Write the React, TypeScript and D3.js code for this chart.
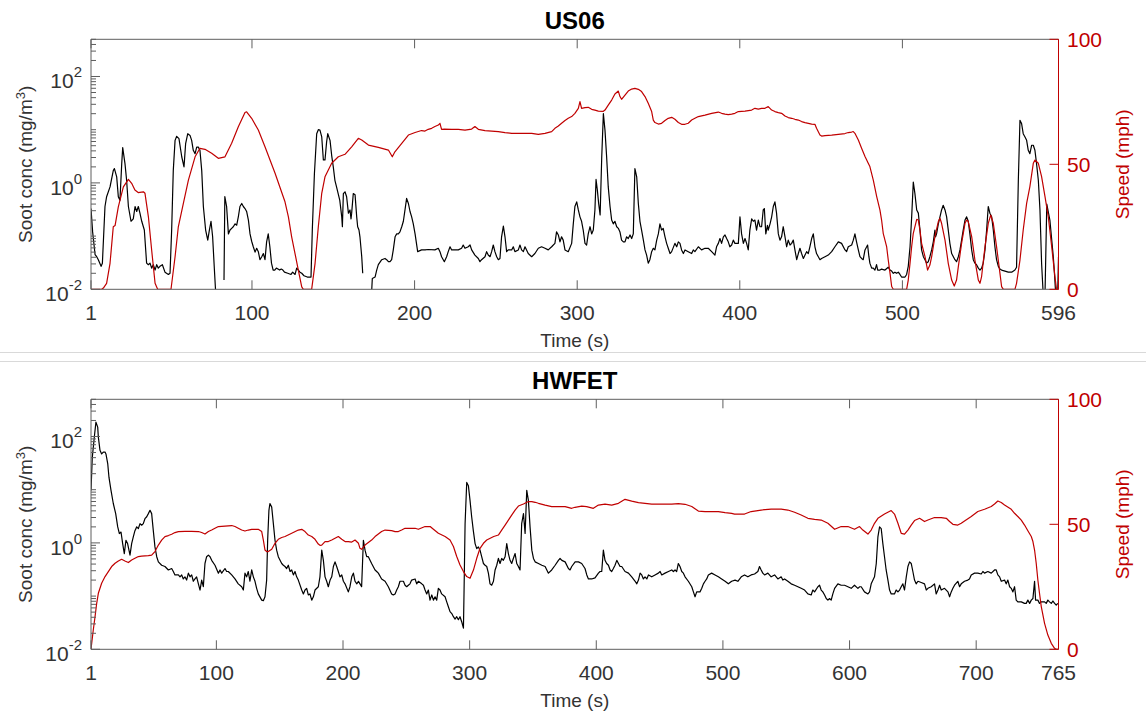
import * as d3 from "d3";
import { useEffect, useRef } from "react";

type Pt = [number, number | null];

// ---- data: [time (s), value] ; null = gap in the soot trace ----
const us06Soot: Pt[] = [
  [1,0.33],[2,0.12],[3.5,0.045],[4.5,0.041],[5.5,0.036],[7.2,0.027],[8,0.031],[9.6,0.36],[10.6,0.55],[12.7,0.84],
  [14.7,1.7],[15.4,1.86],[16.8,1.3],[17.8,0.55],[18.8,0.47],[19.9,2.3],[20.5,4.6],[21.9,2.3],[22.9,1.12],[24,0.36],
  [25.6,0.19],[27,0.21],[28.1,0.36],[29.1,0.29],[30.1,0.36],[31.1,0.27],[32.2,0.19],[33.8,0.13],[35.2,0.031],[36.3,0.029],
  [37.3,0.031],[38.3,0.025],[39.3,0.029],[40.4,0.023],[41.4,0.029],[42.4,0.025],[43.4,0.027],[44.9,0.029],[46.5,0.021],[48.6,0.019],
  [49.6,0.02],[50.6,0.13],[51.6,1.7],[52.7,6.3],[53.7,7.5],[55.1,6.8],[56.8,3.1],[58.2,2.0],[59.2,5.5],[60.5,8.4],
  [61.9,7.8],[62.9,6.3],[63.9,4.1],[65,3.55],[66,4.7],[67,4.7],[68,4.1],[69.1,1.7],[70.1,0.36],[71.5,0.13],
  [72.8,0.084],[73.8,0.13],[74.8,0.19],[75.8,0.097],[76.9,0.023],[77.7,0.0084],[78,null],
  [82.8,0.015],[83.3,0.55],[84.4,0.36],[85.5,0.11],[86.5,0.13],[87.5,0.14],[88.5,0.15],[89.6,0.17],[90.6,0.16],[91.6,0.23],
  [92.6,0.36],[93.7,0.41],[94.7,0.36],[95.7,0.33],[96.7,0.29],[97.8,0.2],[98.8,0.11],[99.8,0.08],[100.8,0.063],[101.9,0.05],
  [102.9,0.059],[103.9,0.051],[104.9,0.036],[106,0.041],[107,0.047],[108,0.036],[109,0.078],[110,0.11],[111,0.063],[112,0.031],
  [113,0.023],[114,0.023],[115,0.025],[116,0.024],[117,0.023],[118,0.024],[119,0.023],[120,0.021],[122,0.02],[124,0.019],
  [125,0.021],[126.5,0.019],[127.5,0.025],[128.5,0.023],[129.5,0.021],[130.6,0.02],[132,0.018],[134,0.017],[136.3,0.017],[137.1,0.13],
  [138.4,1.5],[139.8,8.4],[140.8,10],[141.8,9.8],[142.9,7.3],[143.9,2.7],[144.9,2.7],[145.9,5.9],[146.6,8.4],[148,6.3],
  [149,3.3],[150,2.0],[151,1.12],[152,0.84],[153,0.63],[154,0.47],[155.2,0.23],[155.6,0.15],[156.2,0.63],[157.2,0.68],
  [158.2,0.55],[159.3,0.27],[160.3,0.31],[160.9,0.21],[161.3,0.27],[162.3,0.63],[163.4,0.6],[164.4,0.23],[165,0.15],[165.8,0.13],
  [166.4,0.097],[167.5,0.041],[168.1,0.02],[168.5,null],
  [173.6,0.009],[174,0.016],[175.7,0.017],[176.7,0.023],[177.7,0.029],[179.8,0.036],[181.8,0.038],[182.8,0.036],[183.9,0.033],[184.9,0.033],
  [185.9,0.036],[186.9,0.055],[188,0.097],[189,0.11],[190,0.11],[191,0.12],[192.1,0.15],[193.1,0.19],[194.1,0.31],[195.1,0.51],
  [196.2,0.41],[197.2,0.29],[198.2,0.23],[199.2,0.17],[200.3,0.11],[201.9,0.051],[204.3,0.055],[206.4,0.055],[208.4,0.056],[212.5,0.055],
  [214.6,0.059],[215.6,0.051],[216.6,0.041],[218.3,0.033],[219.7,0.041],[220.7,0.051],[221.8,0.063],[222.8,0.055],[226.9,0.055],[228.9,0.059],
  [229.9,0.068],[231,0.059],[233,0.063],[234.1,0.068],[235.1,0.055],[237.1,0.044],[239.2,0.038],[240.2,0.033],[241.2,0.036],[243.3,0.041],
  [244.3,0.051],[245.3,0.044],[246.4,0.041],[247.4,0.051],[248.4,0.068],[249.4,0.051],[250.5,0.041],[251.5,0.036],[252.5,0.038],[253.5,0.097],
  [254.6,0.154],[255.6,0.097],[256.6,0.051],[257.6,0.055],[259.7,0.055],[260.7,0.063],[261.7,0.051],[263.8,0.055],[264.8,0.068],[265.8,0.055],
  [266.9,0.051],[267.9,0.063],[269.9,0.047],[272,0.041],[274,0.047],[276.1,0.059],[278.1,0.063],[280.2,0.059],[282.2,0.055],[284.3,0.063],
  [286.3,0.073],[287.3,0.12],[288.4,0.105],[289.4,0.078],[290.4,0.097],[291.4,0.084],[292.5,0.055],[294.5,0.051],[296.6,0.073],[297.6,0.17],
  [298.6,0.36],[299.7,0.44],[300.7,0.31],[301.7,0.23],[302.7,0.19],[303.7,0.13],[304.8,0.073],[305.8,0.068],[306.8,0.11],[307.9,0.15],
  [308.9,0.11],[309.9,0.13],[310.9,0.31],[311.6,1.16],[312.4,0.73],[313.2,0.41],[314.1,0.25],[315.1,3.1],[316.1,20],[317.1,9.7],
  [318.1,3.1],[319.1,0.84],[320.2,0.36],[321.2,0.2],[322.2,0.17],[323.2,0.19],[324.3,0.15],[325.3,0.14],[326.3,0.12],[327.3,0.084],
  [328.4,0.078],[329.4,0.078],[330.4,0.097],[331.4,0.09],[332.5,0.105],[333.5,0.09],[334.5,0.11],[335.5,1.86],[336.6,1.3],[337.6,0.41],
  [338.6,0.19],[339.6,0.13],[340.7,0.084],[341.7,0.055],[342.7,0.044],[343.7,0.031],[344.7,0.036],[345.8,0.051],[346.8,0.059],[347.8,0.055],
  [348.9,0.084],[349.9,0.11],[350.9,0.17],[351.9,0.13],[352.9,0.14],[354,0.097],[355,0.073],[356,0.059],[357.1,0.047],[358.1,0.051],
  [360.1,0.073],[361.2,0.063],[362.2,0.078],[363.2,0.073],[364.2,0.055],[365.3,0.047],[366.3,0.055],[368.3,0.051],[370.4,0.047],[371.4,0.055],
  [372.4,0.051],[374.5,0.063],[376.5,0.055],[378.6,0.059],[380.6,0.059],[382.7,0.051],[384.7,0.044],[385.7,0.063],[386.8,0.073],[387.8,0.09],
  [388.8,0.073],[389.9,0.097],[390.9,0.105],[391.9,0.09],[392.9,0.078],[393.9,0.063],[395,0.068],[396,0.084],[397,0.073],[399.1,0.073],
  [400.1,0.23],[401.1,0.11],[402.2,0.073],[403.2,0.09],[404.2,0.073],[405.2,0.055],[406.2,0.13],[407.3,0.21],[408.3,0.19],[409.3,0.2],
  [410.3,0.13],[411.4,0.2],[412.4,0.15],[413.4,0.15],[414.4,0.31],[415.1,0.33],[416,0.11],[417,0.16],[417.5,0.13],[418.6,0.17],
  [419.6,0.23],[420.6,0.36],[421.6,0.44],[422.6,0.27],[423.7,0.11],[424.7,0.084],[425.7,0.097],[426.7,0.15],[427.8,0.097],[428.8,0.063],
  [429.8,0.084],[430.9,0.068],[431.9,0.073],[432.9,0.084],[433.9,0.055],[435,0.036],[436,0.047],[437,0.059],[438,0.047],[439.1,0.038],
  [440.1,0.044],[441.1,0.051],[442.1,0.047],[443.1,0.063],[444.2,0.09],[445.2,0.11],[446.2,0.063],[447.2,0.047],[448.3,0.041],[449.3,0.036],
  [450.3,0.038],[452.4,0.041],[454.4,0.044],[456.5,0.051],[458.5,0.063],[460.6,0.078],[462.6,0.073],[464.7,0.055],[465.7,0.051],[466.7,0.063],
  [468.8,0.068],[469.8,0.084],[470.8,0.11],[471.8,0.078],[472.9,0.055],[473.9,0.041],[474.9,0.038],[475.9,0.036],[477,0.055],[478.6,0.068],
  [479.4,0.041],[480,0.031],[481.1,0.025],[482.1,0.025],[483.1,0.023],[484.1,0.029],[484.8,0.023],[486.2,0.023],[487.2,0.024],[489.3,0.023],
  [491.3,0.026],[492.4,0.023],[493.4,0.022],[494.4,0.02],[495.4,0.021],[496.4,0.02],[497.5,0.021],[498.5,0.019],[499.5,0.017],[500.6,0.017],
  [501.6,0.017],[502.6,0.019],[503.6,0.027],[504.7,0.063],[505.7,0.23],[506.7,1.04],[507.7,0.63],[508.8,0.31],[509.8,0.27],[510.8,0.13],
  [511.8,0.055],[512.9,0.041],[513.9,0.036],[514.9,0.031],[515.9,0.033],[516.9,0.041],[518,0.055],[519,0.078],[520,0.13],[520.4,0.097],
  [521,0.11],[522.1,0.17],[523.1,0.23],[524.1,0.31],[525.1,0.38],[526.2,0.31],[527.2,0.23],[528.2,0.13],[529.2,0.073],[530.3,0.047],
  [532.3,0.036],[533.3,0.033],[534.4,0.041],[535.4,0.055],[536.4,0.084],[537.4,0.13],[538.5,0.2],[539.5,0.23],[540.5,0.19],[541.5,0.11],
  [542.6,0.055],[543.6,0.036],[544.6,0.031],[545.6,0.029],[546.7,0.025],[547.7,0.023],[548.7,0.025],[549.7,0.031],[550.8,0.055],[551.8,0.13],
  [552.8,0.36],[553.8,0.27],[554.9,0.23],[555.9,0.13],[556.9,0.063],[557.9,0.036],[559,0.027],[560,0.024],[561,0.023],[563.1,0.022],
  [565.1,0.021],[566.1,0.021],[567.2,0.021],[569.2,0.023],[570.2,0.026],[571.3,1.12],[572.3,15],[573.3,13],[574.3,8.4],[575.4,7.3],
  [576.4,6.3],[577.4,4.1],[578.4,3.55],[579.5,5.1],[580.5,5.1],[581.5,4.1],[582.5,2.3],[583.6,1.12],[584.6,0.31],[585.6,0.031],
  [586.6,0.008],[587,null],[587.7,0.008],[588.8,0.4],[590.7,0.2],[592.8,0.041],[593.5,0.02],[594.3,0.008],[594.8,null],[595.5,0.008],
  [596,0.041],
];

const us06Speed: Pt[] = [
  [1,0],[7.6,0],[8.6,0.5],[10.6,2.4],[12.7,10.4],[14.7,25],[15.8,25.5],[17.8,33],[20.9,41],[24,44],
  [26,42.4],[28,39.7],[30,38.7],[33.2,39],[34.2,38.4],[36.3,29],[38.3,15.7],[40.4,2.4],[42,0],[50.2,0],
  [52.7,13],[54.7,25],[57.8,34.4],[60.9,43.7],[65,53],[68,56.4],[71.1,56],[75.2,54.4],[79.3,52.4],[83.4,53],
  [87.5,58.4],[91.6,65],[95.7,70.7],[96.7,71],[99.8,68.4],[103.9,63.7],[108,57],[114.2,46.4],[120.3,35],[122.4,29],
  [124.4,21],[128.5,7.7],[130.6,1],[131.6,0],[136.7,0],[138.8,10.4],[140.8,25],[142.9,38.4],[144.9,45],[149,50.4],
  [153.1,53],[157.2,54],[161.3,57],[165.4,60.4],[167.5,59.7],[171.6,57.7],[177.7,56.8],[183.9,55.7],[186.3,53],[187.9,55],
  [192.1,58.4],[196.2,61.7],[200.3,62.7],[204.3,63.5],[206.4,63.3],[208.4,64],[210.5,64.4],[212.5,65.1],[214.6,65.7],[215.6,66.4],
  [216.6,64],[218.3,64.1],[222.8,64],[226.9,64],[231,63.7],[235.1,64.1],[237.1,65.1],[239.2,64],[243.3,63.5],[247.4,63.3],
  [251.5,63.1],[255.6,62.7],[259.7,62.4],[263.8,62.4],[267.9,62.4],[272,62.4],[276.1,62],[280.2,62.4],[284.3,63.1],[286.3,64.4],
  [288.4,65.3],[290.4,66.4],[292.5,67.5],[294.5,68.4],[296.6,69.1],[298.6,70.4],[300.7,72.4],[301.7,75.1],[302.7,72.4],[304.8,72.7],
  [306.8,72.8],[308.9,72],[310.9,71.7],[313,71.3],[316.1,71.2],[317.1,71.7],[319.1,73.7],[321.2,75.7],[323.2,78.1],[325.3,79.3],
  [326.3,77.1],[327.3,76],[329.4,77.7],[331.4,79.3],[333.5,80.1],[335.5,80.4],[337.6,80],[339.6,79.1],[341.7,77.1],[343.7,74.4],
  [345.8,71.1],[346.8,67.7],[347.8,66.7],[349.9,66.1],[351.9,66.4],[354,67.5],[356,68.4],[358.1,68.8],[360.1,68],[362.2,66.7],
  [364.2,66],[366.3,66],[368.3,66.4],[370.4,67.7],[372.4,68.4],[374.5,69.1],[378.6,69.7],[382.7,70.4],[386.8,70.9],[388.8,70.4],
  [390.9,70.1],[392.9,69.9],[395,70.1],[397,70.4],[399.1,71.1],[403.2,71.3],[407.3,71.7],[409.3,72.4],[411.4,72.1],[413.4,72.4],
  [415.5,72.4],[417.5,73.1],[419.6,71.7],[421.6,71.1],[423.7,70.7],[425.7,70.4],[427.8,69.3],[429.8,68.7],[431.9,68.4],[433.9,68],
  [436,67.7],[438,67.1],[440.1,66.7],[444.2,66.1],[446.2,66],[447.2,64.4],[449.3,61.7],[450.3,61.3],[452.4,61.5],[456.5,61.7],
  [460.6,62],[464.7,62.3],[466.7,62.7],[468.8,62.9],[469.8,63.1],[470.8,62.4],[472.9,59.7],[474.9,56.4],[477,53.1],[479,50.4],
  [480,49.1],[482.1,43.7],[484.2,37.1],[486.2,31.7],[487.2,27.7],[488.2,22.4],[490.3,17.1],[491.3,11.7],[492.4,6.4],[493.4,1.1],
  [494.4,0],[502.6,0],[503.6,3.7],[504.7,10.4],[505.7,17.1],[506.7,22.4],[508.8,28],[509.8,27.7],[510.8,23.7],[511.8,18.4],
  [513.9,13.1],[515.5,7.7],[516.9,9.7],[518,13.1],[520,21.1],[522.1,27.1],[523.1,28.4],[524.1,26.4],[526.2,19.7],[528.2,10.4],
  [530.3,3.7],[531.9,1.3],[533.3,3.7],[534.4,9.1],[536.4,18.4],[538.5,26.4],[539.5,27.7],[540.5,27.1],[542.6,21.1],[544.6,11.7],
  [546.7,3.7],[547.7,2.4],[548.7,5.1],[550.8,17.1],[552.8,26.4],[554.3,29.7],[555.9,26.4],[557.9,17.1],[560,6.4],[561,1.1],
  [562.1,0],[569.2,0],[570.2,2.4],[572.3,11.7],[574.3,23.7],[576.4,34.4],[578.4,41.1],[580.5,50.4],[581.5,51.7],[583.6,50.4],
  [585.6,45.1],[587.7,37.1],[589.7,29.1],[591.8,17.1],[593.8,5.1],[594.8,0],[596,0],
];

const hwfetSoot: Pt[] = [
  [1,9.7],[2,40],[3.6,97],[4.9,186],[6.3,150],[6.8,97],[8.1,55],[9.4,47],[10.7,51],[12.1,51],
  [12.8,47],[14.2,31],[15.2,17],[16.8,9.7],[18.6,5.5],[20.5,3.55],[22.1,2.0],[23.4,1.5],[24.7,1.6],[26,0.97],
  [27.3,0.63],[28.6,1.12],[29.9,0.97],[31.8,0.59],[33.1,0.97],[34.4,1.3],[35.7,1.7],[37.1,2.0],[38.4,1.86],[39.7,2.3],
  [41,2.15],[42.3,2.3],[43.6,2.85],[45,3.1],[46.3,3.55],[47.6,4.1],[48.9,3.55],[50.2,1.7],[51.5,0.84],[52.9,0.55],
  [54.2,0.44],[56.8,0.38],[59.4,0.36],[62.1,0.31],[64.7,0.33],[66,0.29],[67.3,0.25],[70,0.25],[71.3,0.23],[72.6,0.25],
  [73.9,0.21],[75.2,0.23],[76.5,0.2],[77.9,0.27],[79.2,0.23],[80.5,0.25],[81.8,0.19],[83.1,0.21],[84.4,0.23],[85.8,0.17],
  [87.1,0.13],[88.4,0.2],[89.7,0.15],[91,0.41],[92.3,0.55],[93.7,0.59],[95,0.55],[96.3,0.47],[98.9,0.38],[101.6,0.27],
  [102.9,0.31],[104.2,0.27],[106.8,0.33],[108.1,0.29],[109.4,0.29],[112.1,0.25],[114.7,0.21],[117.3,0.17],[120,0.15],[121.3,0.13],
  [122.6,0.27],[123.9,0.23],[125.2,0.29],[126.5,0.19],[127.9,0.31],[129.2,0.23],[130.5,0.19],[131.8,0.14],[133.1,0.11],[135.8,0.084],
  [137.1,0.082],[138.4,0.097],[139.7,0.2],[140.5,1.12],[141.5,4.1],[142.3,5.5],[143.7,4.7],[145,2.3],[146.3,1.12],[147.6,0.73],
  [148.9,0.55],[151.6,0.41],[152.9,0.38],[154.2,0.36],[155.5,0.33],[156.8,0.38],[158.2,0.29],[159.5,0.31],[160.8,0.25],[162.1,0.29],
  [163.4,0.23],[164.7,0.2],[167.4,0.13],[168.7,0.11],[170,0.13],[171.3,0.14],[172.6,0.105],[173.9,0.11],[175.3,0.084],[176.6,0.097],
  [177.9,0.13],[180.5,0.15],[181.8,0.23],[183.2,0.73],[184.5,0.47],[185.8,0.23],[187.1,0.19],[188.4,0.15],[189.8,0.2],[191.1,0.23],
  [192.4,0.36],[193.7,0.44],[195,0.36],[196.3,0.29],[197.6,0.23],[199,0.25],[200.3,0.19],[201.6,0.17],[204.2,0.12],[205.5,0.15],
  [206.9,0.23],[208.2,0.27],[209.5,0.19],[210.9,0.17],[212.2,0.19],[213.4,0.17],[214.7,0.15],[215.4,0.41],[216.1,1.12],[217.4,0.73],
  [218.7,0.55],[220,0.55],[222.6,0.41],[225.3,0.31],[226.6,0.29],[227.9,0.27],[230.5,0.21],[233.2,0.19],[235.8,0.15],[238.4,0.11],
  [239.7,0.105],[241.1,0.11],[242.4,0.13],[243.7,0.15],[245,0.19],[246.3,0.19],[247.7,0.19],[249,0.16],[250.3,0.15],[251.6,0.16],
  [252.9,0.17],[254.2,0.2],[256.9,0.21],[258.2,0.17],[259.5,0.19],[262.2,0.17],[263.5,0.16],[264.8,0.13],[266.1,0.11],[267.4,0.13],
  [268.7,0.084],[270.1,0.105],[271.4,0.084],[272.7,0.097],[274,0.084],[275.3,0.14],[276.6,0.13],[277.9,0.11],[280.6,0.097],[281.9,0.078],
  [283.2,0.063],[284.5,0.051],[285.9,0.047],[287.2,0.041],[288.5,0.037],[289.8,0.041],[291.1,0.036],[292.4,0.041],[293.7,0.033],[295.1,0.025],
  [295.6,0.13],[296.4,2.3],[297.7,13.7],[299,11.9],[300.3,6.3],[301.6,3.1],[302.9,1.7],[304.3,0.97],[305.6,0.78],[306.9,0.84],
  [308.2,0.73],[309.5,0.55],[310.9,0.41],[312.2,0.38],[313.5,0.36],[314.8,0.27],[316.1,0.17],[317.4,0.16],[318.8,0.19],[320.1,0.31],
  [321.4,0.38],[322.7,0.51],[324,0.41],[325.3,0.51],[326.6,0.47],[328,0.55],[329.3,0.97],[330.6,0.63],[331.9,0.47],[333.2,0.41],
  [334.5,0.51],[335.9,0.63],[337.2,0.41],[338.5,0.36],[339.8,0.31],[341.1,2.3],[342.5,3.55],[343.8,1.5],[345.1,9.7],[346.4,6.3],
  [347.7,2.0],[349.1,0.73],[350.4,0.51],[351.7,0.44],[354.3,0.41],[357,0.38],[359.6,0.36],[362.2,0.27],[364.8,0.31],[367.5,0.38],
  [370.1,0.47],[371.4,0.51],[372.8,0.47],[375.4,0.44],[378,0.33],[379.3,0.31],[380.6,0.36],[383.3,0.44],[385.9,0.44],[388.5,0.41],
  [391.1,0.33],[392.5,0.25],[393.8,0.21],[396.4,0.21],[399,0.22],[401.7,0.27],[403,0.29],[404.3,0.29],[405.6,0.73],[406.9,0.47],
  [408.2,0.41],[409.6,0.38],[410.9,0.31],[412.2,0.29],[413.5,0.33],[414.8,0.38],[416.2,0.47],[417.5,0.41],[418.8,0.36],[420.1,0.36],
  [422.7,0.29],[425.4,0.27],[428,0.23],[430.7,0.19],[432,0.17],[433.3,0.2],[434.6,0.27],[435.9,0.25],[437.2,0.21],[438.5,0.23],
  [439.9,0.21],[441.2,0.25],[443.8,0.23],[446.4,0.25],[449,0.27],[450.4,0.29],[451.7,0.25],[454.3,0.27],[457,0.29],[459.6,0.31],
  [460.9,0.29],[462.2,0.31],[463.5,0.29],[464.8,0.41],[466.1,0.36],[467.5,0.29],[468.8,0.27],[470.1,0.23],[472.7,0.19],[475.4,0.15],
  [476.7,0.12],[478,0.097],[479.3,0.12],[480.6,0.12],[481.9,0.12],[483.3,0.14],[484.6,0.17],[485.9,0.19],[487.2,0.21],[488.5,0.25],
  [491.1,0.27],[493.8,0.25],[496.4,0.23],[499,0.21],[501.7,0.19],[504.3,0.17],[506.9,0.19],[509.6,0.2],[511.8,0.19],[514.5,0.23],
  [517.1,0.25],[519.7,0.23],[522.3,0.25],[525,0.26],[527.6,0.29],[528.9,0.36],[530.2,0.31],[531.5,0.27],[532.9,0.25],[535.5,0.27],
  [538.1,0.23],[540.8,0.25],[543.4,0.21],[546,0.23],[547.3,0.2],[548.7,0.21],[551.3,0.19],[553.9,0.17],[556.6,0.16],[559.2,0.15],
  [561.8,0.14],[564.5,0.13],[567.1,0.11],[569.7,0.105],[571,0.13],[572.4,0.12],[575,0.15],[576.3,0.16],[577.6,0.13],[578.9,0.12],
  [580.3,0.105],[581.6,0.09],[582.9,0.084],[584.2,0.09],[585.5,0.084],[586.8,0.11],[588.2,0.14],[590.8,0.17],[593.4,0.16],[596.1,0.16],
  [598.7,0.15],[601.3,0.14],[603.9,0.16],[606.6,0.14],[608,0.15],[609.2,0.15],[611.8,0.12],[614.5,0.11],[615.8,0.12],[617.1,0.17],
  [619.7,0.23],[621.1,0.41],[622.4,1.3],[623.7,2.0],[625,1.86],[626.3,0.97],[627.6,0.55],[628.9,0.31],[630.3,0.2],[631.6,0.13],
  [632.9,0.11],[635.5,0.11],[636.8,0.13],[638.2,0.12],[639.5,0.13],[640.8,0.15],[642.1,0.17],[643.4,0.13],[644.8,0.23],[646.1,0.36],
  [647.4,0.44],[648.7,0.41],[650,0.29],[651.3,0.2],[652.6,0.17],[654,0.19],[656.6,0.18],[659.2,0.17],[660.6,0.13],[661.9,0.14],
  [664.5,0.15],[667.1,0.17],[668.4,0.11],[669.8,0.13],[671.1,0.16],[672.4,0.13],[675,0.14],[677.7,0.12],[679,0.097],[680.3,0.12],
  [681.6,0.14],[682.9,0.16],[685.5,0.19],[686.9,0.15],[688.2,0.17],[690.8,0.19],[693.4,0.2],[694.7,0.21],[696.1,0.25],[698.7,0.27],
  [701.3,0.27],[704,0.26],[705.3,0.29],[706.6,0.27],[709.2,0.29],[711.9,0.27],[714.5,0.31],[715.8,0.31],[717.1,0.25],[718.5,0.23],
  [719.8,0.19],[722.4,0.2],[723.7,0.17],[725,0.2],[726.4,0.15],[727.7,0.14],[729,0.12],[730.3,0.15],[731.6,0.084],[732.9,0.078],
  [735.6,0.078],[738.2,0.073],[739.5,0.073],[740.8,0.084],[742.2,0.073],[743.5,0.084],[744.8,0.09],[746.1,0.19],[746.9,0.084],[748.7,0.084],
  [750,0.073],[751.4,0.078],[754,0.078],[755.3,0.073],[756.6,0.084],[757.9,0.078],[759.3,0.073],[760.6,0.081],[761.9,0.073],[763.2,0.068],
  [764.5,0.073],
];

const hwfetSpeed: Pt[] = [
  [1,0],[2.8,7.7],[4.2,13.1],[5.5,18.4],[6.8,22.4],[9.4,26.4],[12.1,29.1],[14.7,31.1],[17.3,33.1],[20,34.4],
  [22.6,35.3],[25.2,36],[27.8,35.3],[30.5,34.7],[33.1,35.7],[35.7,36.4],[38.4,37.1],[41,37.3],[46.3,37.5],[48.9,37.7],
  [51.5,39.1],[54.2,41.7],[56.8,43.7],[59.4,45.1],[62.1,45.5],[64.7,46],[67.3,46.7],[70,47.1],[75.2,47.2],[80.5,47.2],
  [85.8,47.1],[88.4,46.7],[91,46.1],[93.7,47.1],[96.3,47.7],[98.9,48.4],[101.6,49.1],[106.8,49.3],[112.1,49.5],[114.7,49.1],
  [117.3,48.4],[120,47.7],[122.6,47.3],[125.2,47.7],[127.9,48],[133.1,48],[135.8,47.1],[137.1,43.7],[138.4,39.7],[139.7,39.1],
  [141,39.1],[143.7,40],[146.3,42.4],[148.9,44],[151.6,44.7],[154.2,45.1],[159.5,46.4],[164.7,47.7],[167.4,48],[170,47.1],
  [172.6,45.7],[175.3,45.1],[177.9,44],[180.5,42.1],[181.8,41.6],[183.2,41.7],[185.8,43.1],[188.4,43.1],[191.1,43.7],[193.7,44.4],
  [196.3,45.1],[199,44],[201.6,43.1],[204.2,43.1],[206.9,42.9],[209.5,43.7],[212.2,42.4],[213.4,40.4],[214.7,40],[217.4,41.7],
  [220,42.7],[222.6,43.7],[225.3,45.1],[227.9,46.1],[230.5,47.1],[233.2,47.7],[238.4,47.5],[241.1,47.1],[243.7,47.1],[246.3,47.7],
  [249,48.4],[254.2,48.4],[256.9,48.4],[259.5,48],[264.8,49.1],[268.8,49.1],[271.4,48],[275.3,46.4],[280.6,45.1],[284.5,43.7],
  [287.2,41.1],[289.8,37.1],[292.4,33.7],[295.1,31.1],[297.7,29.1],[300.3,28.4],[303,31.7],[305.6,36.4],[308.2,40.4],[310.9,42.4],
  [313.5,43.7],[319,45.1],[322.7,45.7],[325.3,47.7],[328,49.7],[330.6,51.7],[333.2,53.7],[335.9,55.7],[338.5,57.3],[342.5,58.1],
  [346.4,59.1],[349.1,59.1],[351.7,58.8],[354.3,58.4],[359.6,57.7],[364.8,57.1],[370.1,57.1],[375.4,57.1],[380.6,56.4],[383.2,56.8],
  [388.5,57.3],[392.4,57.1],[397.7,56.4],[401.7,57.7],[406.9,58.1],[412.2,57.7],[417.5,58.4],[422.7,60],[428,59.3],[433.3,58.7],
  [438.5,58.4],[443.8,58.1],[454.3,58.1],[459.6,58.1],[464.8,58.3],[470.1,58],[475.4,57.1],[480.6,55.3],[485.9,55.1],[496.4,55.1],
  [501.7,54.7],[506.9,54.4],[509.2,54.1],[517.1,54.1],[522.3,55.1],[530.2,55.7],[538.1,56.1],[546,56.1],[551.3,55.7],[556.6,54.8],
  [561.8,53.7],[567.1,52.4],[572.4,52],[577.6,51.7],[582.9,50.4],[588.2,48],[593.4,49.1],[598.7,49.1],[603.9,48],[607.9,49.1],
  [610.5,47.7],[614.5,46.1],[617.1,47.7],[619.7,50.4],[622.4,52.4],[627.6,54.1],[632.9,55.5],[635.5,54.1],[638.2,50.4],[640.8,46.4],
  [643.4,46.1],[646.1,47.7],[648.7,49.7],[651.3,51.5],[655.3,52.4],[659.2,51.1],[661.9,51.7],[667.1,52.7],[672.4,52.7],[676.4,52.4],
  [679,51.1],[681.6,50],[685.5,49.7],[688.2,50.4],[690.8,51.3],[696.1,53.1],[701.3,55.1],[706.6,56],[711.9,57.1],[714.5,58.1],
  [717.1,59.3],[719.8,58.7],[722.4,57.7],[727.7,56],[730.3,54.4],[732.9,53.1],[735.6,51.7],[738.2,49.7],[740.8,47.4],[743.5,45.1],
  [744.8,43.1],[746.1,39.7],[747.4,34.4],[748.7,27.7],[750,22.4],[751.4,17.1],[754,10.4],[756.6,5.7],[759.3,2.4],[761.9,0.4],
  [763.2,0],[765,0],
];

// ---- ticks ----
const us06TimeTicks = [1, 100, 200, 300, 400, 500, 596];
const hwfetTimeTicks = [1, 100, 200, 300, 400, 500, 600, 700, 765];
const sootLabelTicks = [1e-2, 1e0, 1e2];
const sootExponents = ["-2", "0", "2"];
const speedTicks = [0, 50, 100];

const FONT = "'Liberation Sans', Arial, Helvetica, sans-serif";
const RED = "#c00000";
const AXIS = "#5e5e5e";
const TXT = "#333333";

const LEFT = 91;
const RIGHT = 1058.5;

function drawPanel(
  svg: d3.Selection<SVGSVGElement, unknown, null, undefined>,
  opt: { id: string; title: string; top: number; bottom: number; xMax: number; xTicks: number[]; soot: Pt[]; speed: Pt[] }
) {
  const { id, title, top, bottom, xMax, xTicks, soot, speed } = opt;

  const x = d3.scaleLinear().domain([1, xMax]).range([LEFT, RIGHT]);
  const yL = d3.scaleLog().domain([0.01, 500]).range([bottom, top]);
  const yR = d3.scaleLinear().domain([0, 100]).range([bottom, top]);

  const g = svg.append("g");

  // clip to plot box
  svg.append("defs").append("clipPath").attr("id", id)
    .append("rect").attr("x", LEFT).attr("y", top).attr("width", RIGHT - LEFT).attr("height", bottom - top);

  const plot = g.append("g").attr("clip-path", `url(#${id})`);

  const sootLine = d3.line<Pt>()
    .defined((d) => d[1] != null)
    .x((d) => x(d[0]))
    .y((d) => yL(d[1] as number));

  const speedLine = d3.line<Pt>()
    .x((d) => x(d[0]))
    .y((d) => yR(d[1] as number));

  plot.append("path").datum(soot)
    .attr("fill", "none").attr("stroke", "#000").attr("stroke-width", 1.2)
    .attr("stroke-linejoin", "round").attr("d", sootLine);

  plot.append("path").datum(speed)
    .attr("fill", "none").attr("stroke", RED).attr("stroke-width", 1.2)
    .attr("stroke-linejoin", "round").attr("d", speedLine);

  // ---- box ----
  const box = g.append("g").attr("stroke", AXIS).attr("stroke-width", 1).attr("fill", "none");
  box.append("line").attr("x1", LEFT).attr("x2", RIGHT).attr("y1", top).attr("y2", top);
  box.append("line").attr("x1", LEFT).attr("x2", RIGHT).attr("y1", bottom).attr("y2", bottom);
  box.append("line").attr("x1", LEFT).attr("x2", LEFT).attr("y1", top).attr("y2", bottom);

  // x ticks (bottom + top, inward)
  box.selectAll(".xb").data(xTicks).join("line")
    .attr("x1", (d) => x(d)).attr("x2", (d) => x(d)).attr("y1", bottom).attr("y2", bottom - 9);
  box.selectAll(".xt").data(xTicks).join("line")
    .attr("x1", (d) => x(d)).attr("x2", (d) => x(d)).attr("y1", top).attr("y2", top + 9);

  g.append("g").selectAll("text").data(xTicks).join("text")
    .attr("x", (d) => x(d)).attr("y", bottom + 31)
    .attr("text-anchor", "middle").attr("font-family", FONT).attr("font-size", 21).attr("fill", TXT)
    .text((d) => String(d));

  // left log ticks
  const logTicks: { v: number; major: boolean }[] = [];
  for (let k = -2; k <= 2; k++) {
    for (let m = 1; m <= 9; m++) {
      const v = m * Math.pow(10, k);
      if (v > 500) continue;
      logTicks.push({ v, major: m === 1 && k % 2 === 0 });
    }
  }
  box.selectAll(".yl").data(logTicks).join("line")
    .attr("x1", LEFT).attr("x2", (d) => LEFT + (d.major ? 9 : 5))
    .attr("y1", (d) => yL(d.v)).attr("y2", (d) => yL(d.v));

  const yLab = g.append("g").selectAll("text").data(sootLabelTicks).join("text")
    .attr("x", LEFT - 9).attr("y", (d) => yL(d) + 12)
    .attr("text-anchor", "end").attr("font-family", FONT).attr("fill", TXT);
  yLab.append("tspan").attr("font-size", 21).text("10");
  yLab.append("tspan").attr("font-size", 15).attr("dy", -11).text((_, i) => sootExponents[i]);

  // right speed axis
  const rAx = g.append("g").attr("stroke", RED).attr("stroke-width", 1);
  rAx.append("line").attr("x1", RIGHT).attr("x2", RIGHT).attr("y1", top).attr("y2", bottom);
  rAx.selectAll(".yr").data(speedTicks).join("line")
    .attr("x1", RIGHT).attr("x2", RIGHT - 9).attr("y1", (d) => yR(d)).attr("y2", (d) => yR(d));
  g.append("g").selectAll("text").data(speedTicks).join("text")
    .attr("x", RIGHT + 8.5).attr("y", (d) => yR(d) + 7.5)
    .attr("font-family", FONT).attr("font-size", 21).attr("fill", RED)
    .text((d) => String(d));

  // ---- labels ----
  const mid = (top + bottom) / 2;
  g.append("text")
    .attr("x", (LEFT + RIGHT) / 2).attr("y", top - 10.5)
    .attr("text-anchor", "middle").attr("font-family", FONT).attr("font-size", 24)
    .attr("font-weight", 700).attr("fill", "#000").text(title);

  g.append("text")
    .attr("x", (LEFT + RIGHT) / 2).attr("y", bottom + 57.5)
    .attr("text-anchor", "middle").attr("font-family", FONT).attr("font-size", 19)
    .attr("fill", TXT).text("Time (s)");

  const yl = g.append("text")
    .attr("transform", `translate(31.5,${mid}) rotate(-90)`)
    .attr("text-anchor", "middle").attr("font-family", FONT).attr("font-size", 19).attr("fill", TXT);
  yl.append("tspan").text("Soot conc (mg/m");
  yl.append("tspan").attr("font-size", 13).attr("dy", -7).text("3");
  yl.append("tspan").attr("dy", 7).text(")");

  g.append("text")
    .attr("transform", `translate(1129,${mid}) rotate(-90)`)
    .attr("text-anchor", "middle").attr("font-family", FONT).attr("font-size", 19)
    .attr("fill", RED).text("Speed (mph)");
}

export default function App() {
  const ref = useRef<SVGSVGElement>(null);

  useEffect(() => {
    const svg = d3.select(ref.current as SVGSVGElement);
    svg.selectAll("*").remove();

    svg.append("rect").attr("width", 1146).attr("height", 715).attr("fill", "#fff");

    // separator between the two figures
    svg.append("line").attr("x1", 0).attr("x2", 1146).attr("y1", 352.5).attr("y2", 352.5).attr("stroke", "#d9d9d9");
    svg.append("line").attr("x1", 0).attr("x2", 1146).attr("y1", 361.5).attr("y2", 361.5).attr("stroke", "#d9d9d9");

    drawPanel(svg, {
      id: "clip-us06", title: "US06", top: 39.3, bottom: 289.3, xMax: 596,
      xTicks: us06TimeTicks, soot: us06Soot, speed: us06Speed,
    });
    drawPanel(svg, {
      id: "clip-hwfet", title: "HWFET", top: 399.3, bottom: 649.3, xMax: 765,
      xTicks: hwfetTimeTicks, soot: hwfetSoot, speed: hwfetSpeed,
    });
  }, []);

  return (
    <svg
      ref={ref}
      width={1146}
      height={715}
      style={{ position: "absolute", left: 0, top: 0, display: "block" }}
    />
  );
}
